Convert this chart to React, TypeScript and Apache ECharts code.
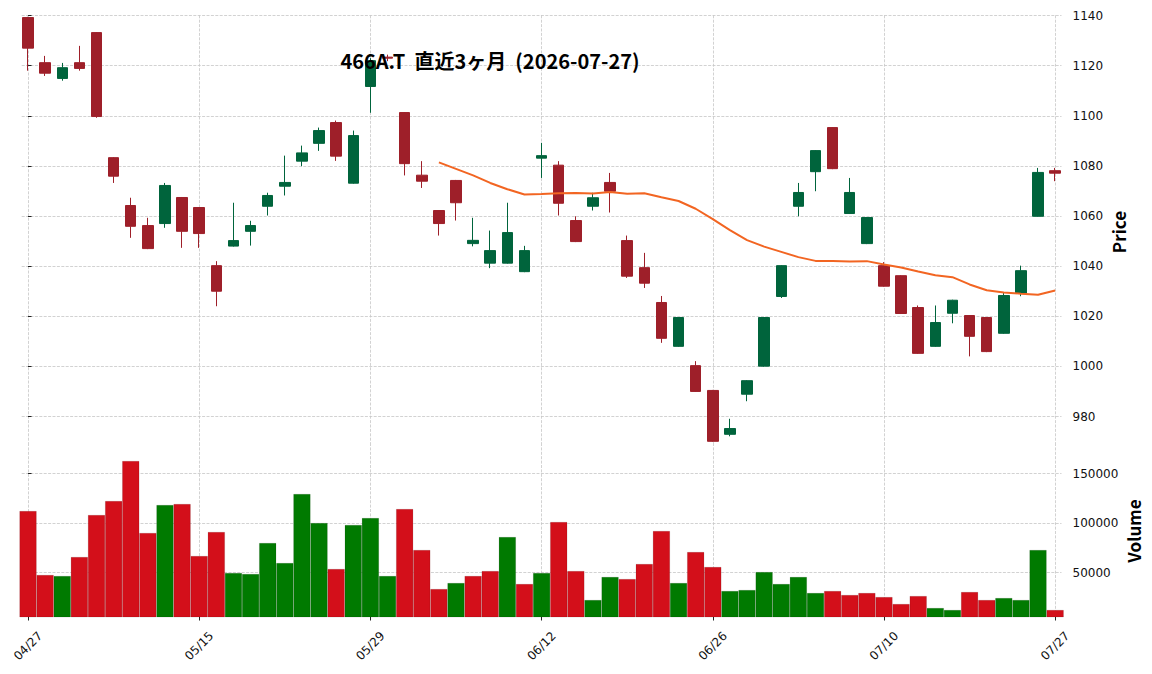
import React, { useEffect, useRef } from 'react';
import * as echarts from 'echarts';

// ---- data ----
const dates = [
  '04/27', '04/28', '04/30', '05/01', '05/07', '05/08', '05/11', '05/12', '05/13', '05/14', '05/15',
  '05/18', '05/19', '05/20', '05/21', '05/22', '05/25', '05/26', '05/27', '05/28', '05/29',
  '06/01', '06/02', '06/03', '06/04', '06/05', '06/08', '06/09', '06/10', '06/11', '06/12',
  '06/15', '06/16', '06/17', '06/18', '06/19', '06/22', '06/23', '06/24', '06/25', '06/26',
  '06/29', '06/30', '07/01', '07/02', '07/03', '07/06', '07/07', '07/08', '07/09', '07/10',
  '07/13', '07/14', '07/15', '07/16', '07/17', '07/21', '07/22', '07/23', '07/24', '07/27',
];

const opens = [
  1139.2, 1121.2, 1114.9, 1121.2, 1133.2, 1083.3, 1064.2, 1056.2, 1057.0, 1067.4, 1063.4,
  1040.2, 1048.0, 1053.9, 1063.9, 1071.9, 1081.9, 1089.0, 1097.3, 1073.1, 1111.7,
  1123.4, 1101.3, 1076.3, 1062.2, 1074.2, 1049.0, 1041.2, 1041.2, 1037.8, 1083.1,
  1080.3, 1058.2, 1063.9, 1073.4, 1050.2, 1039.4, 1025.5, 1008.0, 1000.3, 990.4,
  972.9, 988.9, 1000.1, 1027.9, 1063.9, 1077.7, 1095.3, 1061.0, 1049.0, 1040.2,
  1036.2, 1023.5, 1008.0, 1021.2, 1020.3, 1019.5, 1013.2, 1029.2, 1059.9, 1078.1,
];
const highs = [
  1139.5, 1123.9, 1121.1, 1127.9, 1133.4, 1083.5, 1067.3, 1059.3, 1073.2, 1067.6, 1063.6,
  1042.0, 1065.3, 1058.1, 1069.3, 1084.1, 1088.1, 1095.3, 1098.1, 1094.1, 1123.0,
  1124.4, 1101.5, 1081.9, 1062.4, 1074.4, 1059.3, 1054.2, 1065.3, 1048.1, 1089.2,
  1081.9, 1059.9, 1069.3, 1077.2, 1052.2, 1045.3, 1028.1, 1019.7, 1002.1, 990.6,
  979.1, 994.5, 1019.7, 1040.4, 1073.2, 1086.3, 1095.5, 1075.2, 1059.6, 1041.6,
  1036.4, 1024.3, 1024.3, 1026.6, 1020.5, 1019.7, 1029.3, 1040.2, 1079.2, 1079.2,
];
const lows = [
  1118.0, 1115.9, 1114.0, 1118.0, 1099.2, 1073.2, 1051.3, 1046.8, 1055.3, 1047.3, 1047.3,
  1024.0, 1047.8, 1048.2, 1060.2, 1068.2, 1079.9, 1086.0, 1082.0, 1072.9, 1101.2,
  1121.8, 1076.2, 1071.2, 1052.2, 1058.2, 1047.9, 1039.2, 1041.0, 1037.6, 1075.2,
  1060.2, 1049.6, 1062.2, 1061.4, 1035.3, 1031.3, 1009.4, 1007.8, 989.8, 969.9,
  972.1, 986.1, 999.9, 1027.3, 1059.9, 1069.9, 1078.7, 1060.8, 1048.8, 1031.8,
  1020.9, 1005.0, 1007.8, 1017.2, 1004.0, 1005.7, 1013.0, 1028.0, 1059.7, 1073.9,
];
const closes = [
  1127.0, 1117.0, 1119.2, 1118.9, 1099.7, 1075.9, 1055.9, 1047.0, 1072.2, 1053.9, 1053.0,
  1030.0, 1050.2, 1056.2, 1068.2, 1073.4, 1085.2, 1094.1, 1083.9, 1092.1, 1122.0,
  1123.0, 1080.9, 1073.9, 1057.0, 1065.3, 1050.3, 1046.2, 1053.4, 1046.2, 1084.1,
  1065.1, 1049.8, 1067.3, 1069.9, 1036.0, 1033.2, 1011.2, 1019.5, 990.0, 970.1,
  975.2, 994.3, 1019.5, 1040.2, 1069.4, 1086.1, 1078.9, 1069.4, 1059.4, 1032.0,
  1021.1, 1005.2, 1017.5, 1026.4, 1012.0, 1005.9, 1028.3, 1038.2, 1077.4, 1077.1,
];
const volumes = [
  112200, 47500, 46500, 65700, 108200, 122300, 162800, 90000, 118300, 119300, 66700,
  91000, 49500, 48500, 79850, 59600, 129400, 100100, 53550, 98100, 105100,
  46500, 114200, 72800, 33300, 39400, 46500, 51500, 85900, 38400, 49500,
  101100, 51500, 22200, 45500, 43400, 58600, 92000, 39400, 70700, 55600,
  31300, 32300, 50500, 38400, 45500, 29300, 31300, 27250, 29300, 25200,
  18150, 26200, 14100, 12100, 30300, 22200, 24200, 22200, 72800, 12100,
];
// 25-day moving average line (starts at index 24)
const maStart = 24;
const ma25 = [
  1081.4, 1078.8, 1076.2, 1073.2, 1070.7, 1068.6, 1068.8, 1069.1, 1069.2, 1069.0,
  1069.6, 1068.9, 1069.1, 1067.5, 1066.0, 1062.9, 1058.8, 1054.4, 1050.4, 1047.8,
  1045.7, 1043.6, 1042.1, 1042.1, 1041.9, 1042.0, 1040.7, 1039.5, 1037.9, 1036.4,
  1035.6, 1032.7, 1030.4, 1029.5, 1029.0, 1028.6, 1030.3,
];
const xTickIndex = [0, 10, 20, 30, 40, 50, 60];
const priceTicks = [980, 1000, 1020, 1040, 1060, 1080, 1100, 1120, 1140];
const volumeTicks = [50000, 100000, 150000];
const titleText = '466A.T  直近3ヶ月  (2026-07-27)';

// ---- styles ----
const UP = '#00643c';
const DOWN = '#9e1f29';
const VOL_UP = '#007a00';
const VOL_DOWN = '#d30f1a';
const MA_COLOR = '#f26522';
const TICK_FONT = 'DejaVu Sans';
const CJK_FONT = 'Noto Sans CJK JP';

export default function App() {
  const ref = useRef<HTMLDivElement>(null);

  useEffect(() => {
    document.body.style.margin = '0';
    const chart = echarts.init(ref.current!, null, { renderer: 'svg' });

    const gridLine = {
      show: true,
      lineStyle: { color: '#c6c6c6', width: 0.8, type: [3, 1.4] as any },
    };
    const tickLabel = {
      show: true,
      margin: 11,
      fontFamily: TICK_FONT,
      fontSize: 12,
      color: '#111',
      formatter: (v: number) => String(v),
    };
    const tickMark = { show: true, length: 3.5, lineStyle: { color: '#222', width: 1 } };

    const candleData = dates.map((_, i) => [i, opens[i], closes[i], lows[i], highs[i]]);
    const maData = ma25.map((v, k) => [maStart + k, v]);
    const volData = volumes.map((v, i) => {
      const up = i === 0 ? closes[i] >= opens[i] : closes[i] >= closes[i - 1];
      return { value: [i, v], itemStyle: { color: up ? VOL_UP : VOL_DOWN } };
    });

    const xMin = -0.37;
    const xMax = 60.37;

    const option: any = {
      animation: false,
      backgroundColor: '#ffffff',
      grid: [
        { left: 21.7, right: 90.5, top: 15.3, height: 427.7, outerBoundsMode: 'none' },
        { left: 21.7, right: 90.5, top: 443, height: 174, outerBoundsMode: 'none' },
      ],
      xAxis: [
        {
          type: 'value',
          gridIndex: 0,
          min: xMin,
          max: xMax,
          axisLine: { show: false },
          axisTick: { show: false, customValues: xTickIndex },
          axisLabel: { show: false, customValues: xTickIndex },
          splitLine: gridLine,
        },
        {
          type: 'value',
          gridIndex: 1,
          min: xMin,
          max: xMax,
          axisLine: { show: false },
          axisTick: { ...tickMark, customValues: xTickIndex },
          axisLabel: {
            ...tickLabel,
            customValues: xTickIndex,
            formatter: (v: number) => dates[Math.round(v)] ?? '',
            rotate: 45,
            align: 'center',
            verticalAlign: 'middle',
            margin: 29,
          },
          splitLine: gridLine,
        },
      ],
      yAxis: [
        {
          type: 'value',
          gridIndex: 0,
          position: 'right',
          min: 969.43,
          max: 1140.1,
          axisLine: { show: false },
          axisTick: { ...tickMark, customValues: priceTicks },
          axisLabel: { ...tickLabel, customValues: priceTicks },
          splitLine: gridLine,
        },
        {
          type: 'value',
          gridIndex: 1,
          position: 'right',
          min: 5000,
          max: 181000,
          axisLine: { show: false },
          axisTick: { ...tickMark, customValues: volumeTicks },
          axisLabel: { ...tickLabel, customValues: volumeTicks },
          splitLine: gridLine,
        },
      ],
      series: [
        {
          type: 'candlestick',
          xAxisIndex: 0,
          yAxisIndex: 0,
          data: candleData,
          encode: { x: 0, y: [1, 2, 3, 4] },
          barWidth: 11,
          itemStyle: {
            color: UP,
            color0: DOWN,
            borderColor: UP,
            borderColor0: DOWN,
            borderWidth: 1,
          },
        },
        {
          type: 'line',
          xAxisIndex: 0,
          yAxisIndex: 0,
          data: maData,
          showSymbol: false,
          symbol: 'none',
          lineStyle: { color: MA_COLOR, width: 2 },
          z: 3,
        },
        {
          type: 'bar',
          xAxisIndex: 1,
          yAxisIndex: 1,
          data: volData,
          barWidth: 17.1,
          itemStyle: { borderColor: 'rgba(0,0,0,0.22)', borderWidth: 0.5 },
        },
      ],
      graphic: [
        {
          type: 'text',
          x: 490,
          y: 60,
          z: 100,
          style: {
            text: titleText,
            font: `bold 20px "${CJK_FONT}"`,
            fill: '#000',
            textAlign: 'center',
            textVerticalAlign: 'middle',
          },
        },
        {
          type: 'text',
          x: 1118,
          y: 232,
          rotation: Math.PI / 2,
          style: {
            text: 'Price',
            font: `bold 17px "${CJK_FONT}"`,
            fill: '#000',
            textAlign: 'center',
            textVerticalAlign: 'middle',
          },
        },
        {
          type: 'text',
          x: 1133,
          y: 531,
          rotation: Math.PI / 2,
          style: {
            text: 'Volume',
            font: `bold 17px "${CJK_FONT}"`,
            fill: '#000',
            textAlign: 'center',
            textVerticalAlign: 'middle',
          },
        },
      ],
    };

    chart.setOption(option);
    return () => chart.dispose();
  }, []);

  return <div ref={ref} style={{ width: 1152, height: 674 }} />;
}
